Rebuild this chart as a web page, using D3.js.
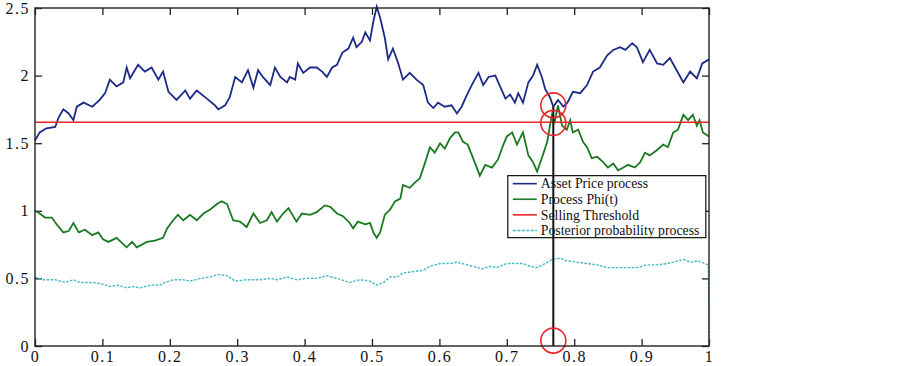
<!DOCTYPE html>
<html>
<head>
<meta charset="utf-8">
<script src="https://cdn.jsdelivr.net/npm/d3@7"></script>
<style>
  body { margin: 0; background: #fff; }
  svg { display: block; }
</style>
</head>
<body>
<svg id="chart"></svg>
<script>
// [t, value] pairs
const assetPrice = [
  [0, 1.52], [0.007, 1.58], [0.017, 1.61], [0.03, 1.62], [0.035, 1.69], [0.042, 1.75], [0.05, 1.72],
  [0.057, 1.67], [0.062, 1.77], [0.072, 1.8], [0.085, 1.77], [0.096, 1.82], [0.104, 1.87], [0.111, 1.97],
  [0.121, 1.92], [0.131, 1.95], [0.136, 2.06], [0.141, 1.98], [0.153, 2.08], [0.163, 2.03], [0.173, 2.06],
  [0.183, 1.97], [0.19, 2.03], [0.198, 1.88], [0.21, 1.82], [0.223, 1.89], [0.23, 1.83], [0.24, 1.89],
  [0.255, 1.83], [0.267, 1.78], [0.272, 1.75], [0.282, 1.78], [0.289, 1.84], [0.297, 1.99], [0.307, 1.95],
  [0.316, 2.04], [0.324, 1.91], [0.331, 2.04], [0.338, 1.99], [0.349, 1.93], [0.356, 2.06], [0.364, 1.99],
  [0.374, 1.95], [0.378, 1.99], [0.386, 1.97], [0.39, 2.09], [0.398, 2.02], [0.408, 2.06], [0.418, 2.06],
  [0.426, 2.03], [0.433, 1.99], [0.441, 2.06], [0.448, 2.08], [0.456, 2.17], [0.465, 2.2], [0.472, 2.28],
  [0.477, 2.21], [0.485, 2.25], [0.49, 2.32], [0.497, 2.26], [0.502, 2.4], [0.507, 2.51], [0.512, 2.43],
  [0.519, 2.28], [0.524, 2.12], [0.531, 2.2], [0.539, 2.09], [0.546, 1.97], [0.556, 2.02], [0.566, 1.97],
  [0.576, 1.93], [0.583, 1.8], [0.591, 1.76], [0.598, 1.8], [0.608, 1.77], [0.618, 1.78], [0.626, 1.72],
  [0.633, 1.77], [0.641, 1.86], [0.648, 1.93], [0.658, 2.02], [0.665, 1.93], [0.673, 1.99], [0.683, 2.0],
  [0.69, 1.92], [0.698, 1.83], [0.705, 1.86], [0.712, 1.8], [0.717, 1.87], [0.724, 1.8], [0.732, 1.95],
  [0.739, 2.0], [0.745, 2.08], [0.752, 1.99], [0.757, 1.9], [0.764, 1.84], [0.769, 1.77], [0.776, 1.82],
  [0.784, 1.77], [0.79, 1.8], [0.798, 1.88], [0.809, 1.87], [0.819, 1.93], [0.828, 2.03], [0.838, 2.06],
  [0.849, 2.15], [0.858, 2.19], [0.868, 2.21], [0.876, 2.19], [0.886, 2.24], [0.893, 2.21], [0.902, 2.1],
  [0.912, 2.19], [0.923, 2.09], [0.932, 2.08], [0.942, 2.13], [0.952, 2.04], [0.962, 1.95], [0.972, 2.03],
  [0.982, 1.98], [0.99, 2.09], [1, 2.12]
]

const processPhi = [
  [0, 1.0], [0.007, 0.98], [0.015, 0.95], [0.025, 0.95], [0.032, 0.9], [0.042, 0.84], [0.05, 0.85],
  [0.057, 0.91], [0.065, 0.84], [0.074, 0.86], [0.085, 0.82], [0.094, 0.84], [0.101, 0.79], [0.109, 0.77],
  [0.121, 0.8], [0.136, 0.73], [0.144, 0.77], [0.151, 0.73], [0.166, 0.77], [0.178, 0.78], [0.19, 0.8],
  [0.196, 0.87], [0.205, 0.93], [0.212, 0.97], [0.22, 0.93], [0.23, 0.97], [0.24, 0.93], [0.25, 0.98],
  [0.26, 1.01], [0.27, 1.05], [0.277, 1.07], [0.285, 1.05], [0.294, 0.93], [0.304, 0.92], [0.314, 0.88],
  [0.324, 0.98], [0.334, 0.91], [0.344, 0.93], [0.351, 0.99], [0.359, 0.92], [0.368, 0.98], [0.376, 1.02],
  [0.388, 0.92], [0.396, 0.98], [0.408, 0.97], [0.418, 0.99], [0.43, 1.04], [0.438, 1.03], [0.448, 0.98],
  [0.457, 0.96], [0.467, 0.91], [0.472, 0.87], [0.479, 0.92], [0.49, 0.9], [0.497, 0.91], [0.502, 0.84],
  [0.507, 0.8], [0.512, 0.84], [0.519, 0.97], [0.527, 1.01], [0.534, 1.07], [0.542, 1.09], [0.546, 1.19],
  [0.556, 1.17], [0.564, 1.21], [0.571, 1.24], [0.579, 1.36], [0.586, 1.47], [0.593, 1.43], [0.601, 1.5],
  [0.608, 1.46], [0.616, 1.54], [0.623, 1.58], [0.628, 1.58], [0.635, 1.51], [0.642, 1.49], [0.65, 1.39],
  [0.66, 1.26], [0.668, 1.34], [0.678, 1.32], [0.687, 1.38], [0.695, 1.49], [0.7, 1.55], [0.708, 1.58],
  [0.715, 1.49], [0.724, 1.58], [0.732, 1.41], [0.739, 1.36], [0.745, 1.29], [0.752, 1.39], [0.76, 1.51],
  [0.764, 1.63], [0.767, 1.71], [0.771, 1.66], [0.776, 1.78], [0.782, 1.63], [0.789, 1.6], [0.794, 1.67],
  [0.798, 1.58], [0.806, 1.6], [0.813, 1.51], [0.819, 1.47], [0.826, 1.39], [0.834, 1.4], [0.843, 1.36],
  [0.85, 1.32], [0.858, 1.35], [0.865, 1.3], [0.873, 1.32], [0.88, 1.34], [0.89, 1.32], [0.898, 1.36],
  [0.905, 1.43], [0.912, 1.41], [0.923, 1.45], [0.932, 1.49], [0.939, 1.47], [0.947, 1.58], [0.954, 1.6],
  [0.962, 1.71], [0.969, 1.67], [0.976, 1.71], [0.982, 1.63], [0.986, 1.67], [0.991, 1.58], [1, 1.55]
]

const posterior = [
  [0, 0.51], [0.012, 0.49], [0.03, 0.49], [0.045, 0.47], [0.057, 0.49], [0.067, 0.47], [0.086, 0.47],
  [0.099, 0.46], [0.111, 0.44], [0.123, 0.45], [0.136, 0.43], [0.145, 0.44], [0.156, 0.43], [0.171, 0.45],
  [0.185, 0.45], [0.193, 0.47], [0.205, 0.49], [0.22, 0.49], [0.23, 0.48], [0.245, 0.5], [0.26, 0.51],
  [0.272, 0.53], [0.285, 0.52], [0.297, 0.48], [0.314, 0.49], [0.334, 0.49], [0.349, 0.5], [0.359, 0.49],
  [0.374, 0.51], [0.388, 0.49], [0.403, 0.5], [0.418, 0.5], [0.433, 0.52], [0.448, 0.5], [0.467, 0.47],
  [0.482, 0.49], [0.497, 0.48], [0.507, 0.45], [0.517, 0.47], [0.527, 0.51], [0.537, 0.51], [0.546, 0.54],
  [0.561, 0.55], [0.576, 0.56], [0.586, 0.59], [0.601, 0.61], [0.616, 0.61], [0.626, 0.62], [0.641, 0.6],
  [0.656, 0.58], [0.663, 0.57], [0.675, 0.59], [0.685, 0.58], [0.7, 0.61], [0.71, 0.61], [0.724, 0.61],
  [0.734, 0.59], [0.745, 0.58], [0.757, 0.61], [0.767, 0.64], [0.779, 0.65], [0.789, 0.63], [0.804, 0.62],
  [0.819, 0.61], [0.834, 0.6], [0.849, 0.58], [0.864, 0.58], [0.879, 0.58], [0.893, 0.58], [0.908, 0.6],
  [0.923, 0.6], [0.938, 0.61], [0.947, 0.62], [0.962, 0.64], [0.972, 0.62], [0.984, 0.63], [0.994, 0.61],
  [0.999, 0.6], [1, 0]
]

const threshold = 1.655
const stopTime = 0.769
const stopPrice = 1.77
const markers = [1.78, 1.65, 0.04]

const legendLabels = ['Asset Price process', 'Process Phi(t)', 'Selling Threshold', 'Posterior probability process']
const xTicks = [0, 0.1, 0.2, 0.3, 0.4, 0.5, 0.6, 0.7, 0.8, 0.9, 1]
const yTicks = [0, 0.5, 1, 1.5, 2, 2.5]

const colors = { asset: '#1c2a88', phi: '#1a7a20', red: '#e8262a', post: '#45b8c4', axis: '#222' }

const margin = { top: 8, right: 193, bottom: 20, left: 35 }
const W = 902, H = 366
const width = W - margin.left - margin.right
const height = H - margin.top - margin.bottom

const svg = d3.select('#chart').attr('width', W).attr('height', H)
const g = svg.append('g').attr('transform', `translate(${margin.left},${margin.top})`)

const x = d3.scaleLinear().domain([0, 1]).range([0, width])
const y = d3.scaleLinear().domain([0, 2.5]).range([height, 0])

const fmt = (d) => String(d)
const tickFont = (sel) =>
  sel.selectAll('text')
    .style('font-family', '"Liberation Serif", "Times New Roman", serif')
    .style('font-size', '16px')
    .style('letter-spacing', '1.5px')
    .attr('fill', '#111')

// axes with inward ticks on all sides
g.append('g')
  .attr('transform', `translate(0,${height})`)
  .call(d3.axisBottom(x).tickValues(xTicks).tickFormat(fmt).tickSizeInner(-7).tickSizeOuter(0).tickPadding(5))
  .call((a) => a.select('.domain').remove())
  .call(tickFont)

g.append('g')
  .call(d3.axisLeft(y).tickValues(yTicks).tickFormat(fmt).tickSizeInner(-7).tickSizeOuter(0).tickPadding(5))
  .call((a) => a.select('.domain').remove())
  .call(tickFont)

g.append('g')
  .call(d3.axisTop(x).tickValues(xTicks).tickFormat('').tickSizeInner(-7).tickSizeOuter(0))
  .call((a) => a.select('.domain').remove())

g.append('g')
  .attr('transform', `translate(${width},0)`)
  .call(d3.axisRight(y).tickValues(yTicks).tickFormat('').tickSizeInner(-7).tickSizeOuter(0))
  .call((a) => a.select('.domain').remove())

g.selectAll('.tick line').attr('stroke', colors.axis).attr('stroke-width', 1.3)

const line = d3.line().x((d) => x(d[0])).y((d) => y(d[1]))

g.append('path').datum(assetPrice)
  .attr('fill', 'none').attr('stroke', colors.asset).attr('stroke-width', 1.8).attr('d', line)

g.append('path').datum(processPhi)
  .attr('fill', 'none').attr('stroke', colors.phi).attr('stroke-width', 1.8).attr('d', line)

g.append('line')
  .attr('x1', x(0)).attr('x2', x(1)).attr('y1', y(threshold)).attr('y2', y(threshold))
  .attr('stroke', colors.red).attr('stroke-width', 1.6)

g.append('path').datum(posterior)
  .attr('fill', 'none').attr('stroke', colors.post).attr('stroke-width', 1.4)
  .attr('stroke-dasharray', '2.5,1.5').attr('d', line)

// legend
const lg = g.append('g').attr('transform', `translate(${x(0.700) + 1},${y(1.26)})`)
lg.append('rect').attr('width', 198).attr('height', 62)
  .attr('fill', '#fff').attr('stroke', '#111').attr('stroke-width', 1.2)
const legendStyles = [
  { c: colors.asset, dash: null },
  { c: colors.phi, dash: null },
  { c: colors.red, dash: null },
  { c: colors.post, dash: '3,1.5' }
]
legendLabels.forEach((label, i) => {
  const yy = 8 + i * 15.6
  lg.append('line').attr('x1', 5).attr('x2', 29).attr('y1', yy).attr('y2', yy)
    .attr('stroke', legendStyles[i].c).attr('stroke-width', 1.6)
    .attr('stroke-dasharray', legendStyles[i].dash)
  lg.append('text').attr('x', 33).attr('y', yy).attr('dy', '0.35em')
    .style('font-family', '"Liberation Serif", "Times New Roman", serif')
    .style('font-size', '13.8px').attr('fill', '#111')
    .text(label)
})

// stopping time marker
g.append('line')
  .attr('x1', x(stopTime)).attr('x2', x(stopTime)).attr('y1', y(stopPrice)).attr('y2', y(0))
  .attr('stroke', '#111').attr('stroke-width', 2)

g.selectAll('circle.mark').data(markers).join('circle')
  .attr('class', 'mark')
  .attr('cx', x(stopTime)).attr('cy', (d) => y(d)).attr('r', 12.5)
  .attr('fill', 'none').attr('stroke', colors.red).attr('stroke-width', 1.6)

// frame
g.append('rect').attr('width', width).attr('height', height)
  .attr('fill', 'none').attr('stroke', colors.axis).attr('stroke-width', 1.4)
</script>
</body>
</html>
